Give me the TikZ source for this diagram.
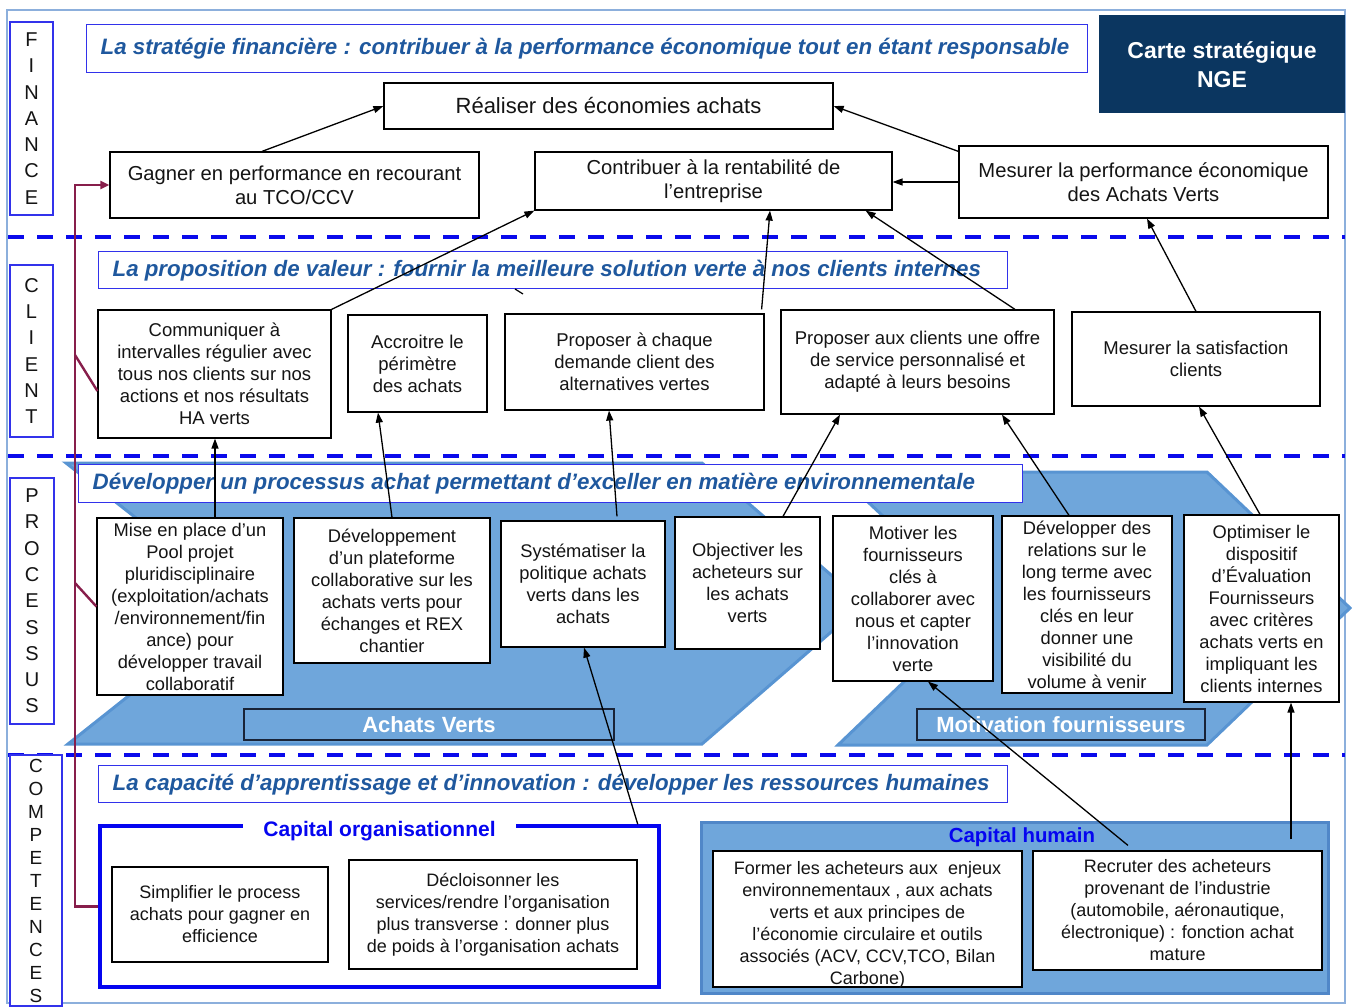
\documentclass[tikz,border=0pt]{standalone}
\usepackage{fontspec}
\setmainfont{Liberation Sans}
\usetikzlibrary{arrows.meta,calc}
\definecolor{bannertext}{RGB}{31,88,158}
\definecolor{bannerborder}{RGB}{50,50,235}
\definecolor{dashblue}{RGB}{10,10,235}
\definecolor{navybox}{RGB}{11,54,96}
\definecolor{chevfill}{RGB}{111,166,219}
\definecolor{chevline}{RGB}{88,148,210}
\definecolor{maroonline}{RGB}{135,30,75}
\definecolor{frameblue}{RGB}{140,175,220}
\definecolor{capblue}{RGB}{5,5,240}
\definecolor{txt}{RGB}{20,20,20}
\definecolor{lbldark}{RGB}{25,35,55}
\definecolor{humborder}{RGB}{80,135,200}
\newcommand\fsTitle{\fontsize{22.3}{24}\selectfont\bfseries\itshape}
\newcommand\fsBig{\fontsize{22}{26}\selectfont}
\newcommand\fsFin{\fontsize{20.2}{24}\selectfont}
\newcommand\fsCli{\fontsize{18.5}{22}\selectfont}
\newcommand\fsPro{\fontsize{18.3}{22}\selectfont}
\newcommand\fsCom{\fontsize{18}{22}\selectfont}
\newcommand\fsLbl{\fontsize{20}{26.3}\selectfont}
\newcommand\fsLblc{\fontsize{19}{23}\selectfont}
\begin{document}
\begin{tikzpicture}[x=1pt,y=-1pt,
  fbox/.style={draw=black, line width=1.2pt, fill=white, align=center, inner sep=0pt, text=txt},
  lblbox/.style={draw=bannerborder, line width=1.2pt, fill=white, align=center, inner sep=0pt, text=txt},
  banner/.style={draw=bannerborder, line width=1.3pt, fill=white, anchor=north west, inner xsep=14pt, inner ysep=0pt, font=\fsTitle, text=bannertext},
  arr/.style={-{Triangle[length=10pt,width=7pt]}, line width=1.3pt, black},
  dashsep/.style={dashblue, line width=4pt, dash pattern=on 16pt off 13pt},
  chev/.style={fill=chevfill, draw=chevline, line width=3pt, line join=miter},
  chevlabel/.style={draw=lbldark, line width=1.6pt, fill=chevfill, text=white, font=\fontsize{22}{26}\selectfont\bfseries, inner sep=0pt},
  maroonpath/.style={maroonline, line width=2.4pt}
]
\useasboundingbox (0,0) rectangle (1352,1008);
\fill[white] (0,0) rectangle (1352,1008);
\draw[frameblue, line width=1.3pt] (7,10) rectangle (1345,1003);

% dashed separators
\draw[dashsep] (8,237) -- (1345,237);
\draw[dashsep] (8,456) -- (1345,456);
\draw[dashsep] (8,755) -- (1345,755);

% chevrons
\path[chev] (66,463) -- (702,463) -- (864,603.5) -- (702,744) -- (68,744) -- (245,603.5) -- cycle;
\path[chev] (836,472) -- (1207,472) -- (1350,608) -- (1207,745) -- (838,745) -- (981,608) -- cycle;
\node[chevlabel, minimum width=370pt, minimum height=31pt] (achv) at (429,724.5) {Achats Verts};
\node[chevlabel, minimum width=288pt, minimum height=31pt] (motiv) at (1061,724.5) {Motivation fournisseurs};

% banners
\node[banner, minimum height=48pt] (b1) at (86,24) {\raisebox{3pt}{\makebox[973pt][l]{La stratégie financière : contribuer à la performance économique tout en étant responsable}}};
\node[banner, minimum height=37pt] (b2) at (98,251) {\makebox[881pt][l]{La proposition de valeur : fournir la meilleure solution verte à nos clients internes}};
\node[banner, minimum height=38pt] (b3) at (78,464) {\makebox[916pt][l]{Développer un processus achat permettant d’exceller en matière environnementale}};
\node[banner, minimum height=37pt] (b4) at (98,765) {\makebox[881pt][l]{La capacité d’apprentissage et d’innovation : développer les ressources humaines}};

% title box
\node[fill=navybox, minimum width=246pt, minimum height=98pt, text=white, font=\fontsize{23}{29}\selectfont\bfseries, align=center, inner sep=0pt] (carte) at (1222,64.5) {Carte stratégique\\NGE};

% side labels
\node[lblbox, minimum width=43pt, minimum height=193pt, font=\fsLbl] (lfin) at (31.5,118.5) {F\\I\\N\\A\\N\\C\\E};
\node[lblbox, minimum width=43pt, minimum height=172pt, font=\fsLbl] (lcli) at (31.5,351) {C\\L\\I\\E\\N\\T};
\node[lblbox, minimum width=44pt, minimum height=246pt, font=\fsLbl] (lpro) at (32,601) {P\\R\\O\\C\\E\\S\\S\\U\\S};
\node[lblbox, minimum width=52pt, minimum height=251pt, font=\fsLblc] (lcom) at (36,880.5) {C\\O\\M\\P\\E\\T\\E\\N\\C\\E\\S};

% finance
\node[fbox, minimum width=449pt, minimum height=46pt, font=\fsBig] (realiser) at (608.5,106) {Réaliser des économies achats};
\node[fbox, minimum width=369pt, minimum height=66pt, font=\fsFin] (gagner) at (294.5,185) {Gagner en performance en recourant\\au TCO/CCV};
\node[fbox, minimum width=357pt, minimum height=58pt, font=\fsFin] (contribuer) at (713.5,181) {Contribuer à la rentabilité de\\l’entreprise};
\node[fbox, minimum width=369pt, minimum height=72pt, font=\fsFin] (mesperf) at (1143.5,182) {Mesurer la performance économique\\des Achats Verts};

% client
\node[fbox, minimum width=233pt, minimum height=128pt, font=\fsCli] (communiquer) at (214.5,374) {Communiquer à\\intervalles régulier avec\\tous nos clients sur nos\\actions et nos résultats\\HA verts};
\node[fbox, minimum width=139pt, minimum height=97pt, font=\fsCli] (accroitre) at (417.5,363.5) {Accroitre le\\périmètre\\des achats};
\node[fbox, minimum width=259pt, minimum height=96pt, font=\fsCli] (propchaque) at (634.5,362) {Proposer à chaque\\demande client des\\alternatives vertes};
\node[fbox, minimum width=273pt, minimum height=104pt, font=\fsCli] (propclients) at (917.5,362) {Proposer aux clients une offre\\de service personnalisé et\\adapté à leurs besoins};
\node[fbox, minimum width=248pt, minimum height=94pt, font=\fsCli] (satisf) at (1196,359) {Mesurer la satisfaction\\clients};

% processus
\node[fbox, minimum width=186pt, minimum height=177pt, font=\fsPro] (miseplace) at (190,606.5) {Mise en place d’un\\Pool projet\\pluridisciplinaire\\(exploitation/achats\\/environnement/fin\\ance) pour\\développer travail\\collaboratif};
\node[fbox, minimum width=196pt, minimum height=145pt, font=\fsPro] (devplat) at (392,590.5) {Développement\\d’un plateforme\\collaborative sur les\\achats verts pour\\échanges et REX\\chantier};
\node[fbox, minimum width=164pt, minimum height=126pt, font=\fsPro] (system) at (583,584) {Systématiser la\\politique achats\\verts dans les\\achats};
\node[fbox, minimum width=145pt, minimum height=132pt, font=\fsPro] (object) at (747.5,583) {Objectiver les\\acheteurs sur\\les achats\\verts};
\node[fbox, minimum width=160pt, minimum height=165pt, font=\fsPro] (motiver) at (913,598.5) {Motiver les\\fournisseurs\\clés à\\collaborer avec\\nous et capter\\l’innovation\\verte};
\node[fbox, minimum width=170pt, minimum height=177pt, font=\fsPro] (devrel) at (1087,604.5) {Développer des\\relations sur le\\long terme avec\\les fournisseurs\\clés en leur\\donner une\\visibilité du\\volume à venir};
\node[fbox, minimum width=155pt, minimum height=187pt, font=\fsPro] (optim) at (1261.5,608.5) {Optimiser le\\dispositif\\d'Évaluation\\Fournisseurs\\avec critères\\achats verts en\\impliquant les\\clients internes};

% competences
\node[draw=capblue, line width=3.5pt, minimum width=559pt, minimum height=161pt, inner sep=0pt] (orgframe) at (379.5,906.5) {};
\node[fill=white, minimum width=273pt, minimum height=24pt, inner sep=0pt, text=capblue, font=\fontsize{21}{25}\selectfont\bfseries] (orgtitle) at (379.5,831) {Capital organisationnel};
\node[fbox, minimum width=216pt, minimum height=95pt, font=\fsCom] (simplifier) at (220,914.5) {Simplifier le process\\achats pour gagner en\\efficience};
\node[fbox, minimum width=288pt, minimum height=109pt, font=\fsCom] (decloison) at (493,914.5) {Décloisonner les\\services/rendre l’organisation\\plus transverse : donner plus\\de poids à l’organisation achats};

\node[draw=humborder, fill=chevfill, line width=3pt, minimum width=627pt, minimum height=171pt, inner sep=0pt] (humframe) at (1014.5,907.5) {};
\node[text=capblue, font=\fontsize{20.4}{24}\selectfont\bfseries, inner sep=0pt] (humtitle) at (1022,837) {Capital humain};
\node[fbox, minimum width=309pt, minimum height=136pt] (former) at (867.5,919) {};
\node[font=\fsCom, align=center, inner sep=0pt, text=txt] (formertxt) at (867.5,925) {Former les acheteurs aux~ enjeux\\environnementaux , aux achats\\verts et aux principes de\\l’économie circulaire et outils\\associés (ACV, CCV,TCO, Bilan\\Carbone)};
\node[fbox, minimum width=289pt, minimum height=119pt, font=\fsCom] (recruter) at (1177.5,910.5) {Recruter des acheteurs\\provenant de l’industrie\\(automobile, aéronautique,\\électronique) : fonction achat\\mature};

% arrows finance
\draw[arr] ([xshift=-32.5pt]gagner.north) -- (realiser.west);
\draw[arr] ([yshift=-6pt]mesperf.north west) -- (realiser.east);
\draw[arr] (mesperf.west) -- (mesperf.west -| contribuer.east);
% client -> finance
\draw[arr] (communiquer.north east) -- (contribuer.south west);
\draw[arr] ([xshift=-3pt,yshift=4pt]propchaque.north east) -- ([xshift=56.5pt]contribuer.south);
\draw[arr] ([xshift=97.5pt]propclients.north) -- ([xshift=-27pt]contribuer.south east);
\draw[arr] (satisf.north) -- ([xshift=3.5pt]mesperf.south);
\draw[line width=1.2pt] (515,289) -- (523,294);
% processus -> client
\draw[arr] ([xshift=25pt]miseplace.north) -- ([xshift=25pt]miseplace.north |- communiquer.south);
\draw[arr] (devplat.north) -- ([xshift=-39.5pt]accroitre.south);
\draw[arr] ([xshift=34pt,yshift=4pt]system.north) -- ([xshift=-25.5pt]propchaque.south);
\draw[arr] ([xshift=35.5pt]object.north) -- ([xshift=-77.5pt]propclients.south);
\draw[arr] ([xshift=-18pt]devrel.north) -- ([xshift=84.5pt]propclients.south);
\draw[arr] ([xshift=-1.5pt]optim.north) -- ([xshift=3pt]satisf.south);
% competences -> processus
\draw[arr] ([xshift=-23pt]orgframe.north east) -- ([xshift=1pt]system.south);
\draw[arr] ([xshift=-49.5pt,yshift=5pt]recruter.north) -- ([xshift=15pt]motiver.south);
\draw[arr] ([xshift=113.5pt,yshift=11pt]recruter.north) -- ([xshift=29.5pt]optim.south);

% maroon bracket
\coordinate (mbus) at (75,185);
\coordinate (mb1) at (75,355);
\coordinate (mb2) at (75,583);
\draw[maroonpath, -{Triangle[length=9pt,width=8pt]}] (orgframe.west) -- (orgframe.west -| mbus) -- (mbus) -- (gagner.west);
\draw[maroonpath] (mb1) -- ([yshift=-17pt]communiquer.west);
\draw[maroonpath] (mb2) -- (miseplace.west);
\end{tikzpicture}
\end{document}
